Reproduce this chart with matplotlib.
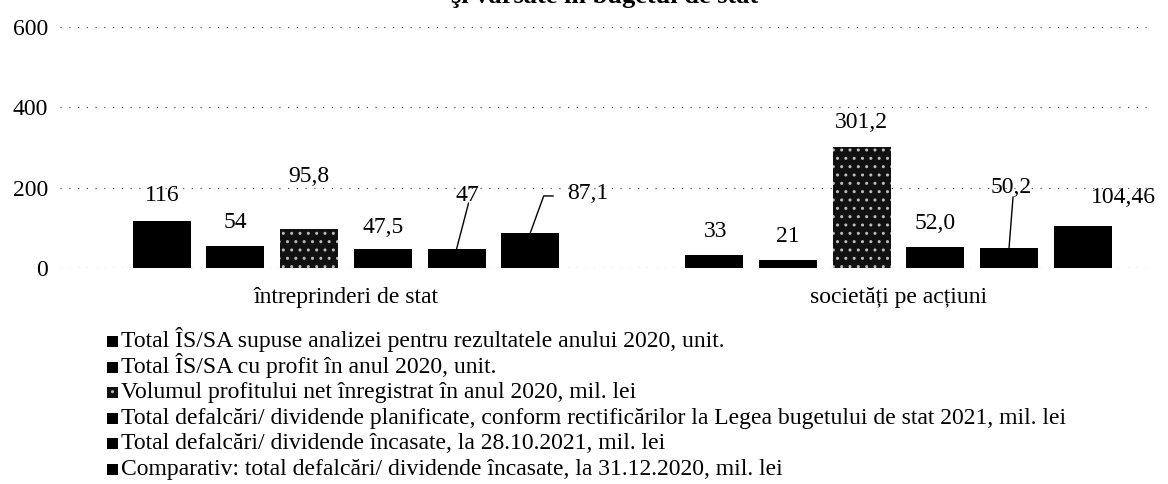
import numpy as np
import matplotlib
matplotlib.use("Agg")
import matplotlib.pyplot as plt
import matplotlib.transforms as mtransforms
from matplotlib.patches import Rectangle

plt.rcParams['font.family'] = ['Liberation Serif', 'DejaVu Serif']

categories = ["întreprinderi de stat", "societăți pe acțiuni"]
series_names = [
    "Total ÎS/SA supuse analizei pentru rezultatele anului 2020, unit.",
    "Total ÎS/SA cu profit în anul 2020, unit.",
    "Volumul profitului net înregistrat în anul 2020, mil. lei",
    "Total defalcări/ dividende planificate, conform rectificărilor la Legea bugetului de stat 2021, mil. lei",
    "Total defalcări/ dividende încasate, la 28.10.2021, mil. lei",
    "Comparativ: total defalcări/ dividende încasate, la 31.12.2020, mil. lei",
]
values_is = [116, 54, 95.8, 47.5, 47, 87.1]
values_sa = [33, 21, 301.2, 52.0, 50.2, 104.46]
labels_is = ["116", "54", "95,8", "47,5", "47", "87,1"]
labels_sa = ["33", "21", "301,2", "52,0", "50,2", "104,46"]
yticks = [0, 200, 400, 600]

W, H = 1168, 484
fig = plt.figure(figsize=(W / 100, H / 100), dpi=100)
AX_L, AX_R, AX_T, AX_B = 60, 1150, 26.5, 268
ax = fig.add_axes([AX_L / W, 1 - AX_B / H, (AX_R - AX_L) / W, (AX_B - AX_T) / H])

x = np.arange(len(categories))
n = len(series_names)
step = 0.1334
width = 0.105
data = np.array([values_is, values_sa])
labels = [labels_is, labels_sa]

HATCH_FACE, HATCH_COL, HATCH = "#111111", "#bdbdbd", ".."

# label offsets in pixels (dx, dy) from bar top centre
offsets = [
    [(0, 26), (0, 24), (0, 53), (0, 21), (11, 54), (57, 39)],
    [(1, 23), (0, 23), (0, 24), (0, 24), (2, 60), (41, 28)],
]
# leader lines: end offset in pixels from bar top centre
leaders = {(0, 4): ((12, 46), None),
           (0, 5): ((23, 37), "angle,angleA=0,angleB=70,rad=0"),
           (1, 4): ((4, 51), None)}

FS = 17
for i in range(n):
    xs = x + (i - (n - 1) / 2) * step
    if i == 2:
        ax.bar(xs, data[:, i], width, color=HATCH_FACE, edgecolor=HATCH_COL,
               hatch=HATCH, linewidth=0, zorder=3)
    else:
        ax.bar(xs, data[:, i], width, color="black", linewidth=0, zorder=3)
    for g in range(len(categories)):
        dx, dy = offsets[g][i]
        ax.annotate(labels[g][i], (xs[g], data[g, i]), xytext=(dx, dy),
                    textcoords="offset pixels", ha="center", va="center",
                    fontsize=FS, zorder=4)
        if (g, i) in leaders:
            (ex, ey), cs = leaders[(g, i)]
            props = dict(arrowstyle="-", color="black", lw=1.0, shrinkA=0, shrinkB=0)
            if cs:
                props["connectionstyle"] = cs
            ax.annotate("", (xs[g], data[g, i]), xytext=(ex, ey),
                        textcoords="offset pixels", arrowprops=props, zorder=4)

ax.set_ylim(0, 600)
ax.set_xlim((AX_L - 346) / 552.5, (AX_R - 346) / 552.5)
ax.set_yticks(yticks)
ax.set_yticklabels([str(t) for t in yticks], fontsize=FS)
ax.tick_params(axis="y", length=0, pad=8.5)
ax.set_xticks([])
ax.grid(axis="y", color="#555555", linestyle=(0, (1, 6)), linewidth=0.9, zorder=0)
for s in ax.spines.values():
    s.set_visible(False)

# category labels
trans = mtransforms.blended_transform_factory(ax.transData, ax.transAxes)
for g, c in enumerate(categories):
    ax.text(x[g], -30 / (AX_B - AX_T), c, transform=trans,
            ha="center", va="center", fontsize=FS)

# title (cut off at the top edge of the page, as in the source)
fig.text(605 / W, 1 - 2.5 / H, "şi vărsate în bugetul de stat", ha="center",
         va="baseline", fontsize=19, fontweight="bold")

# legend: one row per series, evenly spaced
LEG_X, LEG_Y0, LEG_DY, MK = 107, 347, 25.6, 11
for i, name in enumerate(series_names):
    base = LEG_Y0 + i * LEG_DY
    if i == 2:
        r = Rectangle((LEG_X / W, 1 - base / H), MK / W, MK / H,
                      transform=fig.transFigure, facecolor=HATCH_FACE,
                      edgecolor=HATCH_COL, hatch=HATCH, linewidth=0)
    else:
        r = Rectangle((LEG_X / W, 1 - base / H), MK / W, MK / H,
                      transform=fig.transFigure, facecolor="black", linewidth=0)
    fig.add_artist(r)
    fig.text((LEG_X + MK + 3) / W, 1 - base / H, name, ha="left",
             va="baseline", fontsize=FS)

fig.savefig("out.png", dpi=100)
